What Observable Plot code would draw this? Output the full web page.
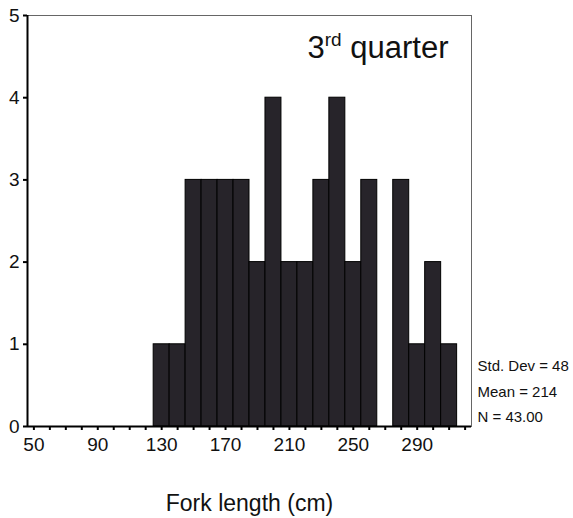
<!DOCTYPE html>
<html>
<head>
<meta charset="utf-8">
<script src="https://cdn.jsdelivr.net/npm/d3@7"></script>
<script src="https://cdn.jsdelivr.net/npm/@observablehq/plot@0.6"></script>
<style>
  html, body { margin: 0; padding: 0; background: #fff; }
  #chart { width: 573px; height: 518px; }
  #chart svg, #chart svg text { font-family: "Liberation Sans", Arial, sans-serif !important; }
  #chart g[aria-label="x-axis tick label"], #chart g[aria-label="y-axis tick label"] { font-size: 19px !important; }
</style>
</head>
<body>
<div id="chart"></div>
<script>
// Fork length histogram, 3rd quarter: bins of 10 cm (left edges) and fish counts
const binStart = [125, 135, 145, 155, 165, 175, 185, 195, 205, 215, 225, 235, 245, 255, 265, 275, 285, 295, 305];
const counts   = [1,   1,   3,   3,   3,   3,   2,   4,   2,   2,   3,   4,   2,   3,   0,   3,   1,   2,   1];
const binWidth = 10;

const xTicks = d3.range(50, 321, 10);
const xTickLabels = [50, 90, 130, 170, 210, 250, 290];
const yTicks = [0, 1, 2, 3, 4, 5];

const panelTitle = "3rd quarter";
const xLabel = "Fork length (cm)";
const stats = ["Std. Dev = 48", "Mean = 214", "N = 43.00"];

const xDomain = [46, 324];
const yDomain = [0, 5];

const bins = binStart
  .map((start, i) => ({x1: start, x2: start + binWidth, count: counts[i]}))
  .filter(d => d.count > 0);

const chart = Plot.plot({
  width: 573,
  height: 518,
  marginLeft: 27,
  marginRight: 102,
  marginTop: 15,
  marginBottom: 92,
  style: {fontFamily: "'Liberation Sans', Arial, sans-serif", background: "#fff"},
  x: {domain: xDomain},
  y: {domain: yDomain},
  marks: [
    Plot.frame({stroke: "#666", strokeWidth: 1}),
    Plot.rectY(bins, {x1: "x1", x2: "x2", y: "count", fill: "#27242a", stroke: "#000", strokeWidth: 1}),
    Plot.ruleX([xDomain[0]], {stroke: "#000", strokeWidth: 2}),
    Plot.ruleY([0], {stroke: "#000", strokeWidth: 2}),
    Plot.axisX({
      ticks: xTicks,
      tickFormat: d => xTickLabels.includes(d) ? String(d) : "",
      tickSize: 4,
      tickPadding: 7,
      strokeWidth: 2,
      fontSize: 19,
      fill: "#111",
      label: null
    }),
    Plot.axisY({
      ticks: yTicks,
      tickFormat: d => String(d),
      tickSize: 4,
      tickPadding: 4,
      strokeWidth: 2,
      fontSize: 19,
      fill: "#111",
      label: null
    }),
    Plot.text([panelTitle], {
      frameAnchor: "top-right",
      textAnchor: "end",
      lineAnchor: "middle",
      dx: -23,
      dy: 33,
      fontSize: 31,
      fill: "#111",
      className: "quarter-label"
    }),
    Plot.text([stats.join("\n")], {
      frameAnchor: "bottom-right",
      textAnchor: "start",
      lineAnchor: "middle",
      lineHeight: 1.7,
      dx: 6,
      dy: -38,
      fontSize: 15,
      fill: "#111"
    }),
    Plot.text([xLabel], {
      frameAnchor: "bottom",
      lineAnchor: "middle",
      dy: 77,
      fontSize: 23,
      fill: "#111"
    })
  ]
});

// superscript ordinal suffix in the panel title
d3.select(chart).selectAll(".quarter-label text").each(function () {
  const t = d3.select(this);
  const s = t.text();
  const m = s.match(/^(\d+)(st|nd|rd|th)(.*)$/);
  if (!m) return;
  t.text(null);
  t.append("tspan").text(m[1]);
  t.append("tspan").attr("font-size", 19).attr("dy", -12).text(m[2]);
  t.append("tspan").attr("dy", 12).text(m[3]);
});

document.getElementById("chart").appendChild(chart);
</script>
</body>
</html>
